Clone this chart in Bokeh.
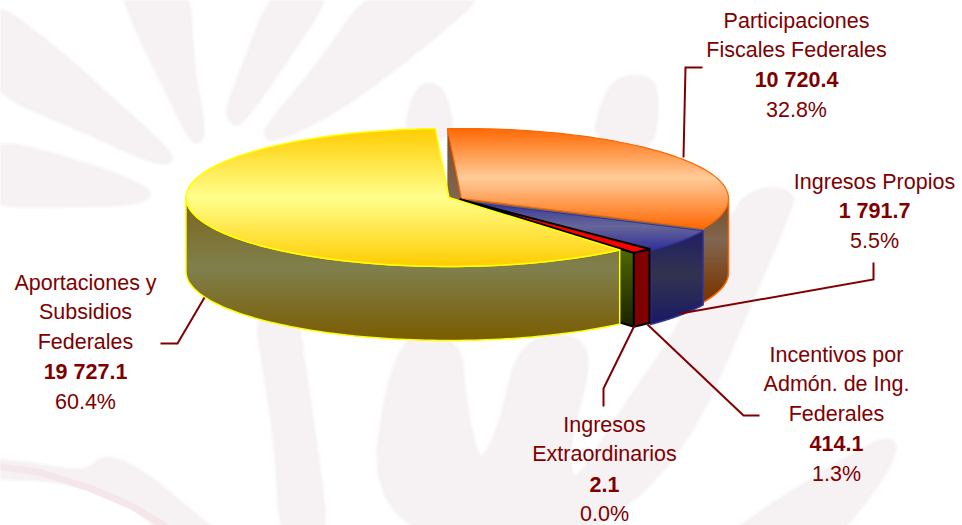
import numpy as np
from bokeh.plotting import figure
from bokeh.models import Range1d
from bokeh.core.properties import value
from bokeh.embed import file_html
from bokeh.resources import INLINE

# ---- data ----
categories = ["Aportaciones y Subsidios Federales", "Ingresos Extraordinarios",
              "Incentivos por Admón. de Ing. Federales", "Ingresos Propios",
              "Participaciones Fiscales Federales"]
values = [19727.1, 2.1, 414.1, 1791.7, 10720.4]
value_labels = ["19 727.1", "2.1", "414.1", "1 791.7", "10 720.4"]
percent_labels = ["60.4%", "0.0%", "1.3%", "5.5%", "32.8%"]
name_lines = [["Aportaciones y", "Subsidios", "Federales"],
              ["Ingresos", "Extraordinarios"],
              ["Incentivos por", "Admón. de Ing.", "Federales"],
              ["Ingresos Propios"],
              ["Participaciones", "Fiscales Federales"]]

# ---- layout ----
START = 93.0
DEPTH = 74.0
YEL = (448.5, 197.0, 263.0, 69.0)
OTH = (461.0, 198.0, 267.0, 70.0)
RED = (460.0, 199.0, 267.0, 70.0)
BLUE = (461.0, 200.5, 267.0, 70.0)
TXT = "#800000"
label_x = [85, 604, 836, 874, 796]
label_top = [282, 424, 354, 181, 20]
label_step = 29.8
leaders = [([204, 177, 160], [297, 343, 343]),
           ([634, 603, 603], [325, 388, 406]),
           ([647, 743, 759], [324, 415, 415]),
           ([680, 873, 873], [313, 279, 262]),
           ([683, 685, 702], [157, 67, 67])]
WM = "#f6f1f3"
watermark = [
    ([-20, 60, 120, 170, 172, 150, 80, -20], [-10, 50, 105, 150, 164, 162, 130, 88]),
    ([-20, 80, 145, 152, 130, 60, -20], [135, 160, 185, 197, 205, 206, 206]),
    ([115, 190, 192, 205, 200, 190, 165, 140], [-20, -20, 60, 130, 142, 142, 90, 40]),
    ([275, 340, 280, 245, 233, 224, 240], [-20, -20, 70, 120, 126, 112, 70]),
    ([375, 500, 420, 340, 275, 262, 270, 320], [-20, -20, 50, 110, 142, 135, 120, 60]),
    ([403, 410, 420, 432, 446, 455], [140, 100, 85, 82, 93, 140]),
    ([593, 598, 612, 635, 655, 658, 652], [140, 110, 80, 74, 80, 110, 150]),
    ([392, 460, 465, 475, 481, 488, 500, 520, 597, 570, 570, 578, 620, 680, 735, 750, 770, 792, 794, 645, 365],
     [330, 335, 400, 448, 458, 448, 420, 335, 335, 440, 472, 478, 410, 325, 205, 192, 186, 192, 205, 545, 545]),
    ([253, 297, 305, 320, 328, 280, 275, 265], [310, 310, 370, 470, 545, 545, 450, 380]),
    ([895, 880, 840, 760, 715, 830, 875, 895], [440, 438, 460, 510, 545, 545, 490, 455]),
    ([85, 105, 150, 190, 235, 170, 130, 60, -20, -20, 30], [472, 452, 475, 510, 545, 545, 500, 480, 478, 458, 462]),
]

# ---- geometry from the values ----
total = sum(values)
spans = [v / total * 360.0 for v in values]
edges = START + np.concatenate([[0.0], np.cumsum(spans)])


def rim(c, t0, t1, n=90):
    t = np.radians(np.linspace(t0, t1, n))
    return c[0] + c[2] * np.cos(t), c[1] - c[3] * np.sin(t)


def top_face(c, t0, t1):
    x, y = rim(c, t0, t1)
    return np.r_[c[0], x], np.r_[c[1], y]


def outer_wall(c, t0, t1):
    x, y = rim(c, t0, t1)
    return np.r_[x, x[::-1]], np.r_[y, y[::-1] + DEPTH]


def cut_wall(c, t):
    x, y = rim(c, t, t, 1)
    return np.array([c[0], x[0], x[0], c[0]]), np.array([c[1], y[0], y[0] + DEPTH, c[1] + DEPTH])


def clip(px, py, lo, hi):
    pts = list(zip(px, py))
    for keep, cut in ((lambda q: q[1] >= lo, lo), (lambda q: q[1] <= hi, hi)):
        out = []
        for i, q in enumerate(pts):
            r = pts[i - 1]
            a, b = keep(q), keep(r)
            if a != b:
                f = (cut - r[1]) / (q[1] - r[1])
                out.append((r[0] + f * (q[0] - r[0]), cut))
            if a:
                out.append(q)
        pts = out
        if not pts:
            break
    return pts


def hex2(c):
    return np.array([int(c[i:i + 2], 16) for i in (1, 3, 5)], float)


def colour(y, stops):
    ys = [s[0] for s in stops]
    rgb = [np.interp(y, ys, [hex2(s[1])[k] for s in stops]) for k in range(3)]
    return "#%02x%02x%02x" % tuple(int(round(v)) for v in rgb)


def smooth(x, y, n=3):
    pts = np.column_stack([x, y]).astype(float)
    for _ in range(n):
        nxt = np.roll(pts, -1, axis=0)
        pts = np.vstack([np.column_stack([0.75 * pts + 0.25 * nxt]),
                         np.column_stack([0.25 * pts + 0.75 * nxt])])[
            np.argsort(np.r_[np.arange(len(pts)) * 2, np.arange(len(pts)) * 2 + 1])]
    return pts[:, 0], pts[:, 1]


p = figure(width=962, height=525, x_range=Range1d(0, 962), y_range=Range1d(525, 0),
           toolbar_location=None, output_backend="svg", min_border=0,
           background_fill_color="white", border_fill_color="white")
p.axis.visible = False
p.grid.visible = False
p.outline_line_color = None


def grad(px, py, stops, line=None, lw=1.5, step=1.5):
    xs, ys, cs = [], [], []
    y0, y1 = float(np.min(py)), float(np.max(py))
    for y in np.arange(y0, y1, step):
        pts = clip(px, py, y, y + step + 0.7)
        if len(pts) >= 3:
            xs.append([q[0] for q in pts])
            ys.append([q[1] for q in pts])
            cs.append(colour(y + step / 2, stops))
    p.patches(xs, ys, fill_color=cs, line_color=None)
    if line:
        p.patch(list(px), list(py), fill_color=None, line_color=line, line_width=lw, line_join="round")


for wx, wy in watermark:
    sx, sy = smooth(wx, wy)
    p.patch(list(sx), list(sy), fill_color=WM, line_color=WM, line_alpha=0.5, line_width=4, line_join="round")
p.line([-10, 40, 90, 130, 180], [465, 472, 488, 505, 535], line_color="#f5e7e9", line_width=7)

ORW = [(127, "#8a4a10"), (160, "#80583a"), (200, "#806650"), (272, "#806650")]
# participaciones: start cut, outer wall, end cut
grad(*cut_wall(OTH, edges[0]), ORW)
grad(*outer_wall(OTH, edges[4], 360),
     [(193, "#7a4a20"), (240, "#806650"), (298, "#7a3500")], line="#ff6600")
grad(*cut_wall(OTH, edges[4]), [(190, "#806650"), (300, "#806650")])

# propios
grad(*outer_wall(BLUE, edges[3], edges[4]),
     [(228, "#1f1f66"), (275, "#333350"), (323, "#1a1a66")], line="#333399")
grad(*top_face(BLUE, edges[3], edges[4]),
     [(200, "#333399"), (226, "#666699"), (248, "#333399")], line="#333399", lw=1)
# participaciones: top
grad(*top_face(OTH, edges[4], edges[5]),
     [(127, "#ff6600"), (178, "#ffcc99"), (229, "#ff6600")], line="#ff6600", lw=1.2)

# extraordinarios
grad(*cut_wall(RED, edges[1]),
     [(198, "#4d6600"), (250, "#4d6600"), (326, "#1a2200")], line="black", lw=2)

# incentivos
wx, wy = outer_wall(RED, edges[2], edges[3])
p.patch(list(wx), list(wy), fill_color="#800000", line_color="black", line_width=2, line_join="round")
fx, fy = top_face(RED, edges[2], edges[3])
p.patch(list(fx), list(fy), fill_color="#ff0000", line_color="black", line_width=2, line_join="round")

# aportaciones
grad(*outer_wall(YEL, 180, edges[1]),
     [(197, "#7a6518"), (268, "#80804d"), (340, "#7a5c00")], line="#ffff00")
grad(*top_face(YEL, edges[0], edges[1]),
     [(128, "#ffcc00"), (197, "#ffff8c"), (266, "#ffcc00")], line="#ffff00")

# leaders
for lx, ly in leaders:
    p.line(lx, ly, line_color=TXT, line_width=2, line_join="miter")

# labels
font = value("Liberation Sans")
for i in range(len(categories)):
    y = label_top[i]
    rows = [(t, "normal") for t in name_lines[i]] + [(value_labels[i], "bold"), (percent_labels[i], "normal")]
    for t, style in rows:
        p.text([label_x[i]], [y], text=[t], text_font=font, text_font_size="21.5px",
               text_font_style=style, text_color=TXT, text_align="center", text_baseline="middle")
        y += label_step

open("out.html", "w").write(file_html(p, INLINE))
